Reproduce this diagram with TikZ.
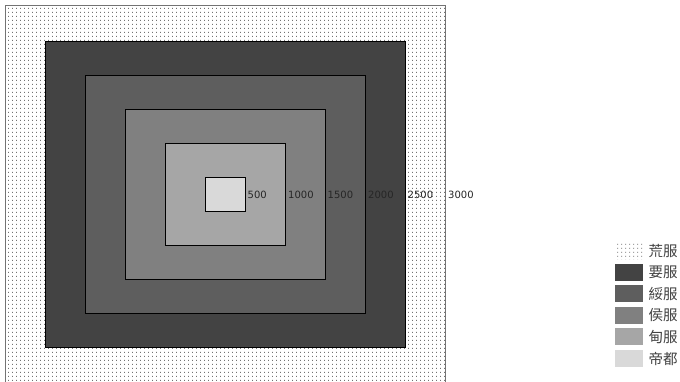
\documentclass[tikz,border=0pt]{standalone}
\usepackage{fontspec}
\newfontfamily\cjk{Noto Sans CJK TC}
\newfontfamily\numfont{DejaVu Sans}
\usetikzlibrary{patterns}
\pgfdeclarepatternformonly{mydots}{\pgfpoint{0pt}{0pt}}{\pgfpoint{3.6pt}{4pt}}{\pgfpoint{3.6pt}{4pt}}{%
  \pgfpathrectangle{\pgfpoint{1.2pt}{1.5pt}}{\pgfpoint{1pt}{1pt}}\pgfusepath{fill}}
\definecolor{cdu}{HTML}{D9D9D9}
\definecolor{cdian}{HTML}{A6A6A6}
\definecolor{chou}{HTML}{808080}
\definecolor{csui}{HTML}{5E5E5E}
\definecolor{cyao}{HTML}{434343}
\begin{document}
\begin{tikzpicture}[x=1pt,y=-1pt,
  zone/.style={draw=black, line width=0.8pt, inner sep=0pt, outer sep=0pt},
  num/.style={font=\fontsize{10}{12}\numfont, inner sep=0pt, anchor=west, text=black!85},
  swatch/.style={inner sep=0pt, outer sep=0pt, minimum width=28pt, minimum height=17pt},
  legtext/.style={font=\fontsize{14.5}{16}\cjk, inner sep=0pt, anchor=west, text=black!75},
  dotted area/.style={fill=white, postaction={pattern=mydots, pattern color=black!55}}]
\useasboundingbox (0,0) rectangle (680,382);
\begin{scope}
\clip (0,0) rectangle (680,382);
\path[dotted area] (5,5.5) rectangle (445,390);
\draw[line width=0.8pt, black!55] (5,390) -- (5,5.5) -- (445,5.5) -- (445,390);
\coordinate (huangE) at (445,194);
\end{scope}
\node[zone, fill=cyao, minimum width=360pt, minimum height=306pt] (yao) at (225,194) {};
\node[zone, fill=csui, minimum width=280pt, minimum height=238pt] (sui) at (225,194) {};
\node[zone, fill=chou, minimum width=200pt, minimum height=170pt] (hou) at (225,194) {};
\node[zone, fill=cdian, minimum width=120pt, minimum height=102pt] (dian) at (225,194) {};
\node[zone, fill=cdu, minimum width=40pt, minimum height=34pt] (du) at (225,194) {};
\node[num] (l500) at ([xshift=2.5pt,yshift=-0.5pt]du.east) {500};
\node[num] (l1000) at ([xshift=3pt,yshift=-0.5pt]dian.east) {1000};
\node[num] (l1500) at ([xshift=2.5pt,yshift=-0.5pt]hou.east) {1500};
\node[num] (l2000) at ([xshift=3pt,yshift=-0.5pt]sui.east) {2000};
\node[num] (l2500) at ([xshift=2.5pt,yshift=-0.5pt]yao.east) {2500};
\node[num] (l3000) at ([xshift=3pt,yshift=-0.5pt]huangE) {3000};
% legend
\node[swatch, dotted area] (s1) at (629,250.5) {};
\node[swatch, fill=cyao] (s2) at (629,272.1) {};
\node[swatch, fill=csui] (s3) at (629,293.7) {};
\node[swatch, fill=chou] (s4) at (629,315.3) {};
\node[swatch, fill=cdian] (s5) at (629,336.9) {};
\node[swatch, fill=cdu] (s6) at (629,358.5) {};
\node[legtext] (t1) at ([xshift=5.5pt]s1.east) {荒服};
\node[legtext] (t2) at ([xshift=5.5pt]s2.east) {要服};
\node[legtext] (t3) at ([xshift=5.5pt]s3.east) {綏服};
\node[legtext] (t4) at ([xshift=5.5pt]s4.east) {侯服};
\node[legtext] (t5) at ([xshift=5.5pt]s5.east) {甸服};
\node[legtext] (t6) at ([xshift=5.5pt]s6.east) {帝都};
\end{tikzpicture}
\end{document}
